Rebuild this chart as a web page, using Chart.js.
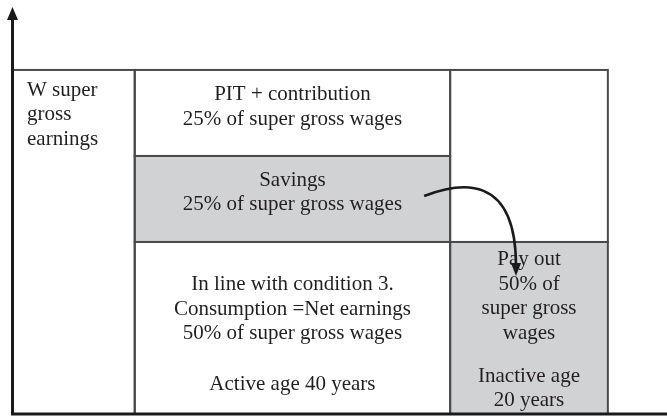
<!DOCTYPE html>
<html lang="en">
<head>
<meta charset="UTF-8" />
<title>Super gross wages over the life cycle</title>
<script src="https://cdn.jsdelivr.net/npm/chart.js"></script>
<style>
  html, body { margin: 0; padding: 0; background: #fff; }
  #wrap { width: 667px; height: 419px; }
</style>
</head>
<body>
<div id="wrap"><canvas id="chart"></canvas></div>
<script>
// life phases in years, and how the super gross wages (%) are split
const phases = ['Active age', 'Inactive age'];
const phaseYears = [40, 20];
const activeParts = ['Consumption', 'Savings', 'PIT + contribution'];
const activeShares = [50, 25, 25];
const inactiveParts = ['Pay out'];
const inactiveShares = [50];
const earningsLabel = ['W super', 'gross', 'earnings'];

// texts of each cell, built from the values above
const activeTexts = [
  ['In line with condition 3.', 'Consumption =Net earnings', activeShares[0] + '% of super gross wages', '',
   phases[0] + ' ' + phaseYears[0] + ' years'],
  ['Savings', activeShares[1] + '% of super gross wages'],
  ['PIT + contribution', activeShares[2] + '% of super gross wages']
];
const inactiveTexts = [
  [inactiveParts[0], inactiveShares[0] + '% of', 'super gross', 'wages', '', phases[1], phaseYears[1] + ' years']
];

const GRAY = '#d1d2d4';
const LINE = '#4a4a4a';
const AXIS = '#1a1a1a';
const INK = '#231f20';
const FONT = '21px "Liberation Serif", "Times New Roman", serif';
const LH = 24.5;
const shaded = ['Savings', 'Pay out'];
// per cell: extra gap for the blank line, vertical shift of the text block
const textLayout = {
  'Consumption': { gap: 51, shift: 13.5 },
  'Savings': { gap: LH, shift: 0 },
  'PIT + contribution': { gap: LH, shift: 0.5 },
  'Pay out': { gap: 43, shift: 9 }
};

function drawLines(ctx, lines, cx, cy, lay) {
  // baseline offsets, a blank entry means a gap
  const offs = [];
  let t = 0;
  lines.forEach((l, i) => {
    if (l === '') return;
    offs.push([l, t]);
    const nextBlank = lines[i + 1] === '';
    t += nextBlank ? lay.gap : LH;
  });
  const span = offs[offs.length - 1][1];
  const first = cy + lay.shift - span / 2 - 1;
  offs.forEach(([l, o]) => ctx.fillText(l, cx, first + o));
}

const diagram = {
  id: 'diagram',
  afterDraw(chart) {
    const { ctx, chartArea: a, scales: { x, y } } = chart;
    const px = v => x.getPixelForValue(v);
    const py = v => y.getPixelForValue(v);
    const endActive = phaseYears[0];
    const endAll = phaseYears[0] + phaseYears[1];

    const cells = [];
    cells.push({ name: 'label', x0: x.min, x1: 0, y0: 0, y1: 100 });
    let acc = 0;
    activeParts.forEach((p, i) => {
      cells.push({ name: p, x0: 0, x1: endActive, y0: acc, y1: acc + activeShares[i], text: activeTexts[i] });
      acc += activeShares[i];
    });
    acc = 0;
    inactiveParts.forEach((p, i) => {
      cells.push({ name: p, x0: endActive, x1: endAll, y0: acc, y1: acc + inactiveShares[i], text: inactiveTexts[i] });
      acc += inactiveShares[i];
    });
    cells.push({ name: 'rest', x0: endActive, x1: endAll, y0: acc, y1: 100 });

    ctx.save();
    cells.forEach(c => {
      const l = px(c.x0), r = px(c.x1), t = py(c.y1), b = py(c.y0);
      if (shaded.includes(c.name)) {
        ctx.fillStyle = GRAY;
        ctx.fillRect(l, t, r - l, b - t);
      }
      c.box = { l, r, t, b };
    });
    ctx.strokeStyle = LINE;
    ctx.lineWidth = 2;
    cells.forEach(c => ctx.strokeRect(c.box.l, c.box.t, c.box.r - c.box.l, c.box.b - c.box.t));

    // texts
    ctx.fillStyle = INK;
    ctx.font = FONT;
    ctx.textBaseline = 'alphabetic';
    ctx.textAlign = 'left';
    const lb = cells[0].box;
    earningsLabel.forEach((l, i) => ctx.fillText(l, lb.l + 14.5, lb.t + 26 + i * LH));
    ctx.textAlign = 'center';
    cells.forEach(c => {
      if (!c.text) return;
      drawLines(ctx, c.text, (c.box.l + c.box.r) / 2, (c.box.t + c.box.b) / 2, textLayout[c.name]);
    });

    // arrow from savings to pay out
    const sav = cells.find(c => c.name === 'Savings').box;
    const pay = cells.find(c => c.name === 'Pay out').box;
    const sy = (sav.t + sav.b) / 2;
    const tipX = (pay.l + pay.r) / 2 - 13;
    const tipY = pay.t + 34;
    ctx.strokeStyle = AXIS;
    ctx.lineWidth = 2.6;
    ctx.beginPath();
    ctx.moveTo(sav.r - 26, sy - 3);
    ctx.bezierCurveTo(sav.r + 10, sy - 17, tipX, sy - 26, tipX, tipY - 10);
    ctx.stroke();
    ctx.fillStyle = AXIS;
    ctx.beginPath();
    ctx.moveTo(tipX, tipY);
    ctx.lineTo(tipX - 5, tipY - 13);
    ctx.lineTo(tipX + 5, tipY - 13);
    ctx.closePath();
    ctx.fill();

    // axes
    const y0 = py(0);
    ctx.strokeStyle = AXIS;
    ctx.lineWidth = 3;
    ctx.beginPath();
    ctx.moveTo(a.left, y0 + 1.5);
    ctx.lineTo(a.left, a.top + 10);
    ctx.moveTo(a.left - 1.5, y0);
    ctx.lineTo(chart.width, y0);
    ctx.stroke();
    ctx.beginPath();
    ctx.moveTo(a.left, a.top);
    ctx.lineTo(a.left - 5.5, a.top + 13);
    ctx.lineTo(a.left + 5.5, a.top + 13);
    ctx.closePath();
    ctx.fill();
    ctx.restore();
  }
};

new Chart(document.getElementById('chart'), {
  type: 'scatter',
  data: { datasets: [] },
  options: {
    responsive: true,
    maintainAspectRatio: false,
    animation: false,
    layout: { padding: { left: 12.5, right: 0, top: 7, bottom: 5 } },
    plugins: { legend: { display: false }, tooltip: { enabled: false } },
    scales: {
      x: { type: 'linear', min: -15.5, max: 67.5, display: false },
      y: { type: 'linear', min: 0, max: 118.3, display: false }
    }
  },
  plugins: [diagram]
});
</script>
</body>
</html>
